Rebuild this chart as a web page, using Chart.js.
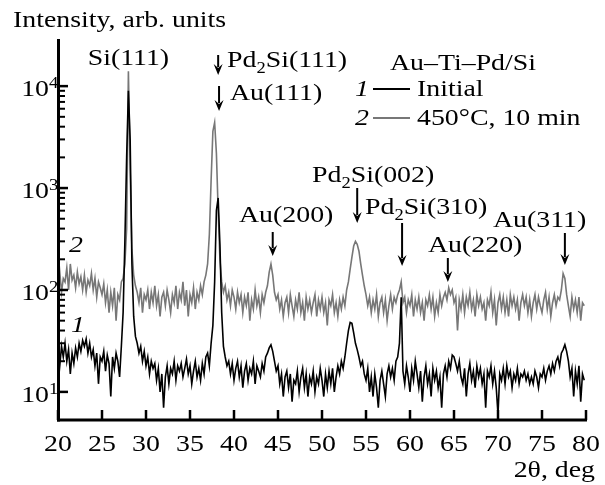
<!DOCTYPE html>
<html><head><meta charset="utf-8">
<script src="https://cdn.jsdelivr.net/npm/chart.js@4"></script>
<style>html,body{margin:0;padding:0;background:#fff}#wrap{width:605px;height:485px}
#probe{position:absolute;left:-999px;top:0;font-family:"Liberation Serif";font-size:23px}
#probe i{font-style:italic}</style>
</head><body><span id="probe">Probe <i>1</i></span><div id="wrap"><canvas id="c" width="605" height="485"></canvas></div>
<script>
// Scan grid: 2theta from 20.0 deg in 0.2 deg steps
const START_DEG = 20;
const STEP_DEG = 0.2;

// Curve 1: Initial (black), 5 points per degree, 20.0 ... 79.8
const initialCounts = [
  25,18,28,22,30,  20,26,15,24,19,  27,22,30,25,32,  28,33,24,30,22,
  26,18,24,12,22,  20,25,16,23,19,  9,22,17,24,20,   14,28,60,300,2000,
  9000,3000,180,55,35,  30,24,28,20,25,  18,22,15,20,17,  19,13,17,10,15,
  7,14,18,12,17,  15,20,13,18,16,  19,14,17,21,15,  18,12,16,20,14,
  17,13,19,15,22,  24,18,30,45,120,  600,800,280,60,28,  22,18,20,15,19,
  13,17,20,14,18,  11,16,19,13,17,  15,20,12,18,16,  14,19,16,22,24,
  27,29,25,20,16,  18,12,15,9,14,  16,11,15,8,13,  12,16,10,14,17,
  11,15,9,14,12,  16,10,14,12,17,  13,9,15,11,16,  12,17,10,14,18,
  15,20,17,22,30,  40,48,47,38,30,  26,22,18,20,15,  13,17,10,14,9,
  15,11,7,13,16,  12,9,15,18,14,  17,13,20,22,30,  85,16,12,18,14,
  10,17,13,20,15,  11,16,8,14,18,  12,15,9,17,13,  16,11,14,7,15,
  18,14,20,17,23,  22,19,16,20,14,  12,17,9,15,19,  13,16,11,18,14,
  17,12,15,7,16,  14,18,12,16,11,  6,15,13,17,12,  18,14,16,11,15,
  13,17,12,15,14,  16,13,15,12,14,  12,16,14,11,15,  14,17,13,16,18,
  15,19,16,20,22,  18,24,26,29,25,  20,14,17,9,16,  12,18,8,15,13
];

// Curve 2: 450 C, 10 min (gray)
const annealedCounts = [
  110,150,95,130,120,  165,100,180,125,140,  105,150,115,135,100,  140,95,125,110,145,
  100,130,85,120,105,  90,115,75,100,60,  95,70,105,50,90,  80,120,130,180,400,
  14000,1500,250,140,110,  95,75,105,60,90,  80,100,65,95,75,  110,70,90,55,85,
  95,70,100,80,60,  90,75,110,65,95,  80,120,70,100,55,  90,75,105,65,95,
  80,110,90,120,140,  180,350,1200,3600,4400,  2200,600,200,120,95,  110,80,95,70,100,
  85,65,95,75,90,  60,85,70,95,50,  80,65,100,70,85,  60,90,75,95,110,
  150,180,140,95,80,  90,65,80,55,75,  85,60,90,70,55,  80,65,95,60,75,
  50,85,65,80,60,  75,90,55,80,65,  85,60,75,45,80,  70,90,60,75,55,
  80,65,85,70,100,  120,160,210,270,300,  280,240,180,140,110,  90,70,85,60,80,
  65,90,55,75,85,  60,80,50,70,90,  65,85,75,90,100,  120,75,85,60,80,
  70,90,55,80,65,  85,60,75,50,80,  70,90,65,85,55,  75,60,90,70,85,
  95,80,105,90,100,  75,85,40,80,65,  90,60,85,70,95,  65,80,55,90,70,
  85,65,75,50,80,  70,95,60,80,45,  75,90,65,85,60,  80,55,90,70,85,
  65,80,50,75,90,  70,85,60,80,55,  75,90,65,85,70,  60,80,95,65,85,
  55,75,90,70,85,  80,100,145,130,90,  70,55,85,65,80,  60,85,50,75,70
];

const xTickValues = [20,25,30,35,40,45,50,55,60,65,70,75,80];
const xTickLabels = ['20','25','30','35','40','45','50','55','60','65','70','75','80'];
const yMajorValues = [10,100,1000,10000];
const yMajorLabels = [['10','1'],['10','2'],['10','3'],['10','4']];
const yMinorValues = [20,30,40,50,60,70,80,90,200,300,400,500,600,700,800,900,2000,3000,4000,5000,6000,7000,8000,9000];

const seriesNames = ['Initial','450°C, 10 min'];
const sampleTitle = 'Au–Ti–Pd/Si';
const yTitle = 'Intensity, arb. units';
const xTitle = '2θ, deg';

// peak labels: text parts and arrow peak position (deg)
const peaks = [
  {parts:[['Pd'],['2','sub'],['Si(111)']], pos:38.2},
  {parts:[['Au(111)']], pos:38.3},
  {parts:[['Au(200)']], pos:44.4},
  {parts:[['Pd'],['2','sub'],['Si(002)']], pos:54.0},
  {parts:[['Pd'],['2','sub'],['Si(310)']], pos:59.1},
  {parts:[['Au(220)']], pos:64.3},
  {parts:[['Au(311)']], pos:77.6}
];

function toPoints(arr){
  return arr.map((v,i)=>({x: Math.round((START_DEG + i*STEP_DEG)*10)/10, y: v}));
}

const FONT = '"Liberation Serif", Tinos, "Times New Roman", serif';
const SX = 1.16;
const FS = 24;

function drawParts(ctx, parts, x, y, size, align, italic){
  ctx.save();
  ctx.textBaseline = 'alphabetic';
  ctx.fillStyle = '#000';
  const fontFor = (k)=> `${italic?'italic ':''}${k?Math.round(size*0.68):size}px ${FONT}`;
  let total = 0;
  const widths = parts.map(p=>{ctx.font = fontFor(p[1]); const w = ctx.measureText(p[0]).width*SX; total += w; return w;});
  let cx = align==='center' ? x - total/2 : align==='right' ? x - total : x;
  parts.forEach((p,i)=>{
    ctx.font = fontFor(p[1]);
    let dy = p[1]==='sub' ? size*0.25 : 0;
    ctx.save(); ctx.translate(cx, y+dy); ctx.scale(SX,1); ctx.fillText(p[0],0,0); ctx.restore();
    cx += widths[i];
  });
  ctx.restore();
  return total;
}

function arrow(ctx, x, y1, y2){
  ctx.save();
  ctx.strokeStyle='#000'; ctx.fillStyle='#000'; ctx.lineWidth=2;
  ctx.beginPath(); ctx.moveTo(x,y1); ctx.lineTo(x,y2-8); ctx.stroke();
  ctx.beginPath(); ctx.moveTo(x-4.5,y2-11); ctx.lineTo(x,y2); ctx.lineTo(x+4.5,y2-11); ctx.lineTo(x, y2-7); ctx.closePath(); ctx.fill();
  ctx.restore();
}

const decor = {
  id:'decor',
  afterDraw(chart){
    const ctx = chart.ctx, xs = chart.scales.x, ys = chart.scales.y, a = chart.chartArea;
    ctx.save();
    ctx.strokeStyle='#000'; ctx.lineWidth=3; ctx.lineCap='butt';
    ctx.beginPath(); ctx.moveTo(a.left+0.5, a.top); ctx.lineTo(a.left+0.5, a.bottom+1.5); ctx.stroke();
    ctx.beginPath(); ctx.moveTo(a.left-1, a.bottom); ctx.lineTo(a.right+1, a.bottom); ctx.stroke();
    ctx.lineWidth=2.5;
    xTickValues.forEach((v,i)=>{
      const px = xs.getPixelForValue(v);
      ctx.beginPath(); ctx.moveTo(px, a.bottom); ctx.lineTo(px, a.bottom-10); ctx.stroke();
      drawParts(ctx, [[xTickLabels[i]]], px, a.bottom+31, FS, 'center');
    });
    yMajorValues.forEach((v,i)=>{
      const py = ys.getPixelForValue(v);
      ctx.beginPath(); ctx.moveTo(a.left, py); ctx.lineTo(a.left+10, py); ctx.stroke();
      drawParts(ctx, [[yMajorLabels[i][0]]], a.left-9, py+10, FS, 'right');
      drawParts(ctx, [[yMajorLabels[i][1]]], a.left-9, py+2, 16, 'left');
    });
    ctx.lineWidth=2;
    yMinorValues.forEach(v=>{
      const py = ys.getPixelForValue(v);
      ctx.beginPath(); ctx.moveTo(a.left, py); ctx.lineTo(a.left+7, py); ctx.stroke();
    });
    drawParts(ctx, [[yTitle]], 13, 27, FS, 'left');
    drawParts(ctx, [[xTitle]], 595, 477, FS, 'right');
    drawParts(ctx, [['Si(111)']], xs.getPixelForValue(28.0), 65, FS, 'center');
    const lay = [
      {tx:227, ty:67, ay1:55, ay2:75},
      {tx:230, ty:100, ay1:86, ay2:111},
      {tx:239, ty:222, ay1:232, ay2:256},
      {tx:312, ty:182, ay1:188, ay2:223},
      {tx:365, ty:214, ay1:223, ay2:266},
      {tx:428, ty:252, ay1:258, ay2:282},
      {tx:493, ty:227, ay1:233, ay2:265}
    ];
    peaks.forEach((p,i)=>{
      const L = lay[i];
      drawParts(ctx, p.parts, L.tx, L.ty, FS, 'left');
      arrow(ctx, xs.getPixelForValue(p.pos), L.ay1, L.ay2);
    });
    drawParts(ctx, [[sampleTitle]], 390, 70, FS, 'left');
    const ds = chart.data.datasets;
    [[96,89],[125,118]].forEach((r,i)=>{
      drawParts(ctx, [[String(i+1)]], 355, r[0], FS, 'left', true);
      ctx.strokeStyle = ds[i].borderColor; ctx.lineWidth = 2.2;
      ctx.beginPath(); ctx.moveTo(373, r[1]); ctx.lineTo(410, r[1]); ctx.stroke();
      drawParts(ctx, [[seriesNames[i]]], 417, r[0], FS, 'left');
    });
    drawParts(ctx, [['2']], 69, 252, FS, 'left', true);
    drawParts(ctx, [['1']], 71, 332, FS, 'left', true);
    ctx.restore();
  }
};

function build(){
  new Chart(document.getElementById('c'), {
    type:'line',
    data:{datasets:[
      {label:seriesNames[0], data:toPoints(initialCounts), borderColor:'#000000', borderWidth:1.6, pointRadius:0, tension:0},
      {label:seriesNames[1], data:toPoints(annealedCounts), borderColor:'#777777', borderWidth:1.6, pointRadius:0, tension:0}
    ]},
    options:{
      responsive:false, animation:false, devicePixelRatio:1,
      layout:{padding:{top:39,right:19,left:0,bottom:0}},
      plugins:{legend:{display:false}, tooltip:{enabled:false}},
      scales:{
        x:{type:'linear', min:20, max:80, grid:{display:false}, border:{display:false}, ticks:{display:false},
           afterFit(s){s.height=65;}},
        y:{type:'logarithmic', min:5.3, max:29000, grid:{display:false}, border:{display:false}, ticks:{display:false},
           afterFit(s){s.width=58;}}
      }
    },
    plugins:[decor]
  });
}
Promise.all([
  document.fonts.load('24px "Liberation Serif"'),
  document.fonts.load('italic 24px "Liberation Serif"')
]).then(build, build);
</script>
</body></html>
